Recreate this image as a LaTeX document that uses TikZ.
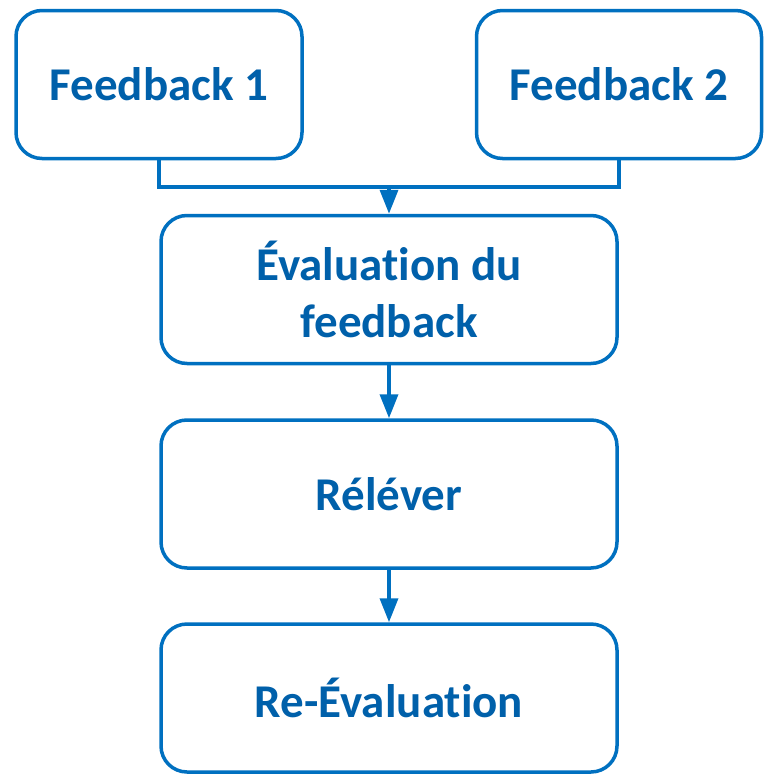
\documentclass[tikz,border=0pt]{standalone}
\usepackage{fontspec}
\setmainfont{Carlito}[Ligatures=NoCommon]
\usetikzlibrary{arrows.meta}
\definecolor{lineblue}{HTML}{0070C0}
\definecolor{textblue}{HTML}{0060AA}
\begin{document}
\begin{tikzpicture}[x=1pt,y=-1pt,
  box/.style={draw=lineblue, line width=3.5pt, rounded corners=26pt, fill=white,
    text=textblue, font=\fontsize{47}{57}\selectfont\bfseries, align=center,
    inner sep=0pt, minimum height=148pt},
  conn/.style={draw=lineblue, line width=3.5pt},
  arr/.style={conn, -{Triangle[width=18pt,length=24pt]}}]
\useasboundingbox (0,0) rectangle (764,774);
\node[box, minimum width=286pt] (f1) at (159,84.5) {Feedback 1};
\node[box, minimum width=285pt] (f2) at (619,84.5) {Feedback 2};
\node[box, minimum width=456pt] (ev) at (389,289.5) {Évaluation du\\feedback};
\node[box, minimum width=456pt] (rl) at (389,494) {Réléver};
\node[box, minimum width=456pt] (re) at (389,698) {Re-Évaluation};
\coordinate (j) at (389,187);
\draw[conn] (f1.south) |- (j) -| (f2.south);
\draw[arr] (j) -- (ev.north);
\draw[arr] (ev.south) -- (rl.north);
\draw[arr] (rl.south) -- (re.north);
\end{tikzpicture}
\end{document}
